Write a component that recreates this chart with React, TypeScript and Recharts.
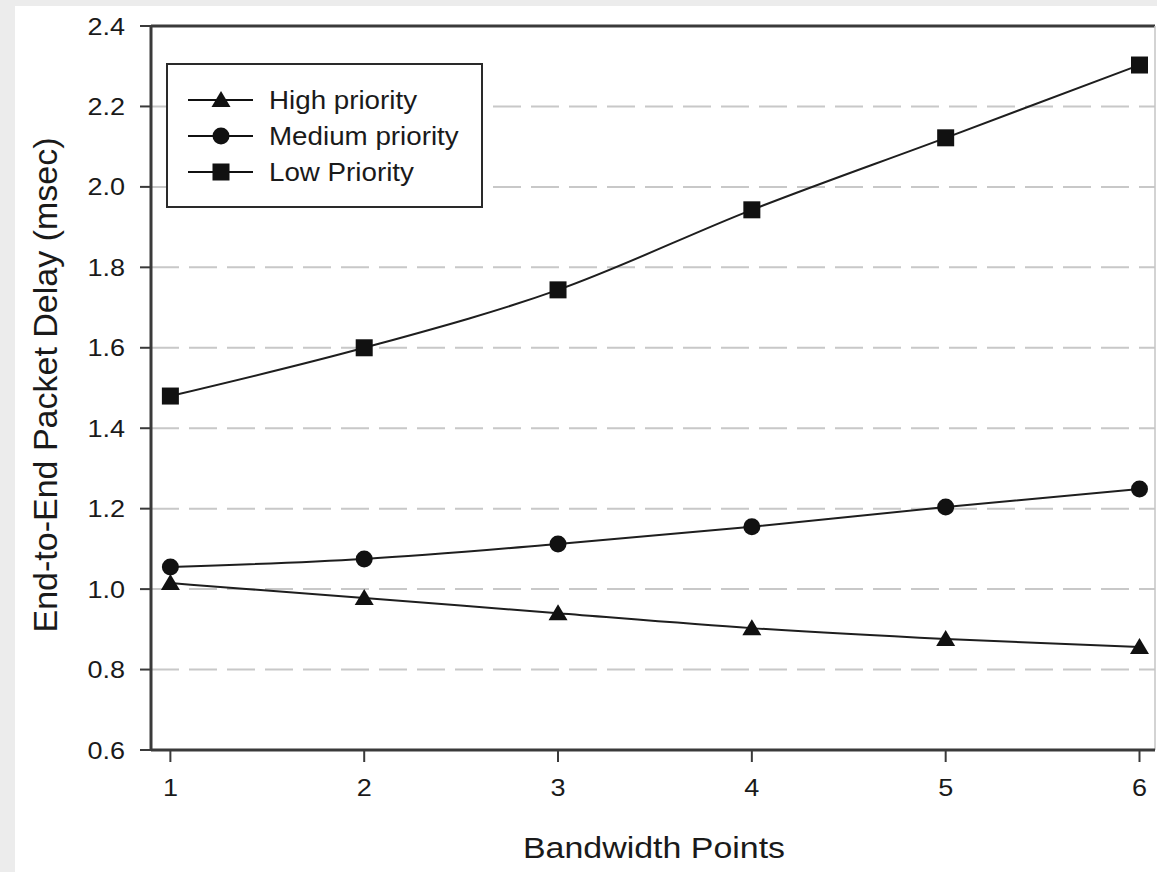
import React from 'react';
import {
  LineChart,
  Line,
  XAxis,
  YAxis,
  CartesianGrid,
  ReferenceLine,
  Customized,
} from 'recharts';

const categories = [1, 2, 3, 4, 5, 6];
const highPriority = [1.015, 0.978, 0.94, 0.903, 0.876, 0.856];
const mediumPriority = [1.055, 1.075, 1.112, 1.155, 1.204, 1.249];
const lowPriority = [1.48, 1.6, 1.744, 1.943, 2.122, 2.303];
const yTicks = [0.6, 0.8, 1.0, 1.2, 1.4, 1.6, 1.8, 2.0, 2.2, 2.4];
const xTicks = [1, 2, 3, 4, 5, 6];
const seriesNames = ['High priority', 'Medium priority', 'Low Priority'];
const seriesKeys = ['high', 'medium', 'low'];
const seriesShapes = ['triangle', 'circle', 'square'];

const data = categories.map((c, i) => ({
  x: c,
  high: highPriority[i],
  medium: mediumPriority[i],
  low: lowPriority[i],
}));

const FONT = '"Liberation Sans", Arial, Helvetica, sans-serif';
const INK = '#111';
const AXIS = '#3a3a3a';

function Marker({ shape, cx, cy }: { shape: string; cx: number; cy: number }) {
  if (shape === 'triangle') {
    return (
      <polygon
        points={`${cx},${cy - 9} ${cx + 9.5},${cy + 7} ${cx - 9.5},${cy + 7}`}
        fill={INK}
      />
    );
  }
  if (shape === 'circle') {
    return <circle cx={cx} cy={cy} r={8.5} fill={INK} />;
  }
  return <rect x={cx - 8.5} y={cy - 8.5} width={17} height={17} fill={INK} />;
}

const makeDot = (shape: string) => (props: any) => {
  const { cx, cy, index } = props;
  if (cx == null || cy == null) return <g key={`d-${shape}-${index}`} />;
  return (
    <g key={`d-${shape}-${index}`}>
      <Marker shape={shape} cx={cx} cy={cy} />
    </g>
  );
};

const YTick = (props: any) => {
  const { x, y, payload } = props;
  return (
    <g transform={`translate(${x},${y}) scale(1.15,1)`}>
      <text
        x={0}
        y={0}
        dy={8.5}
        textAnchor="end"
        fontSize={23.5}
        fontFamily={FONT}
        fill="#1a1a1a"
      >
        {Number(payload.value).toFixed(1)}
      </text>
    </g>
  );
};

const XTick = (props: any) => {
  const { x, y, payload } = props;
  return (
    <g transform={`translate(${x},${y}) scale(1.15,1)`}>
      <text
        x={0}
        y={0}
        dy={34}
        textAnchor="middle"
        fontSize={23.5}
        fontFamily={FONT}
        fill="#1a1a1a"
      >
        {payload.value}
      </text>
    </g>
  );
};

const LegendBox = () => {
  const left = 167;
  const top = 64;
  const rows = [100, 136, 172];
  return (
    <g>
      <rect
        x={left}
        y={top}
        width={315}
        height={143}
        fill="#fff"
        stroke="#2a2a2a"
        strokeWidth={2}
      />
      {seriesNames.map((name, i) => (
        <g key={name}>
          <line x1={188} x2={253} y1={rows[i]} y2={rows[i]} stroke={INK} strokeWidth={2} />
          <Marker shape={seriesShapes[i]} cx={221} cy={rows[i]} />
          <g transform={`translate(269,${rows[i] + 9}) scale(1.11,1)`}>
            <text x={0} y={0} fontSize={25} fontFamily={FONT} fill="#1a1a1a">
              {name}
            </text>
          </g>
        </g>
      ))}
    </g>
  );
};

const AxisTitles = () => (
  <g>
    <text
      transform="translate(57,385) rotate(-90)"
      textAnchor="middle"
      fontSize={34}
      fontFamily={FONT}
      fill="#1a1a1a"
    >
      End-to-End Packet Delay (msec)
    </text>
    <g transform="translate(654,858) scale(1.17,1)">
      <text x={0} y={0} textAnchor="middle" fontSize={29} fontFamily={FONT} fill="#1a1a1a">
        Bandwidth Points
      </text>
    </g>
  </g>
);

export default function App() {
  return (
    <div
      style={{
        position: 'absolute',
        left: 0,
        top: 0,
        width: 1157,
        height: 872,
        background: '#ececec',
        overflow: 'hidden',
      }}
    >
      <div
        style={{
          position: 'absolute',
          left: 15,
          top: 6,
          width: 1142,
          height: 866,
          background: '#fff',
        }}
      />
      <div style={{ position: 'absolute', left: 0, top: 0 }}>
        <LineChart
          width={1157}
          height={872}
          data={data}
          margin={{ top: 26, right: 2, left: 0, bottom: 0 }}
        >
          <CartesianGrid
            vertical={false}
            stroke="#c8c8c8"
            strokeWidth={2}
            strokeDasharray="28 10"
          />
          <XAxis
            dataKey="x"
            type="number"
            domain={[0.9, 6.08]}
            ticks={xTicks}
            allowDataOverflow
            height={122}
            tickSize={12}
            tickMargin={0}
            tick={<XTick />}
            axisLine={{ stroke: AXIS, strokeWidth: 3 }}
            tickLine={{ stroke: AXIS, strokeWidth: 2 }}
            interval={0}
          />
          <YAxis
            type="number"
            domain={[0.6, 2.4]}
            ticks={yTicks}
            allowDataOverflow
            width={151}
            tickSize={11}
            tickMargin={15}
            tick={<YTick />}
            axisLine={{ stroke: AXIS, strokeWidth: 3 }}
            tickLine={{ stroke: AXIS, strokeWidth: 2 }}
            interval={0}
          />
          <ReferenceLine y={2.4} stroke={AXIS} strokeWidth={3} />
          <ReferenceLine x={6.08} stroke="#c4c4c4" strokeWidth={1.5} />
          {seriesKeys.map((k, i) => (
            <Line
              key={k}
              dataKey={k}
              name={seriesNames[i]}
              type="monotone"
              stroke="#1e1e1e"
              strokeWidth={2}
              dot={makeDot(seriesShapes[i])}
              activeDot={false}
              isAnimationActive={false}
            />
          ))}
          <Customized component={<LegendBox />} />
          <Customized component={<AxisTitles />} />
        </LineChart>
      </div>
    </div>
  );
}
